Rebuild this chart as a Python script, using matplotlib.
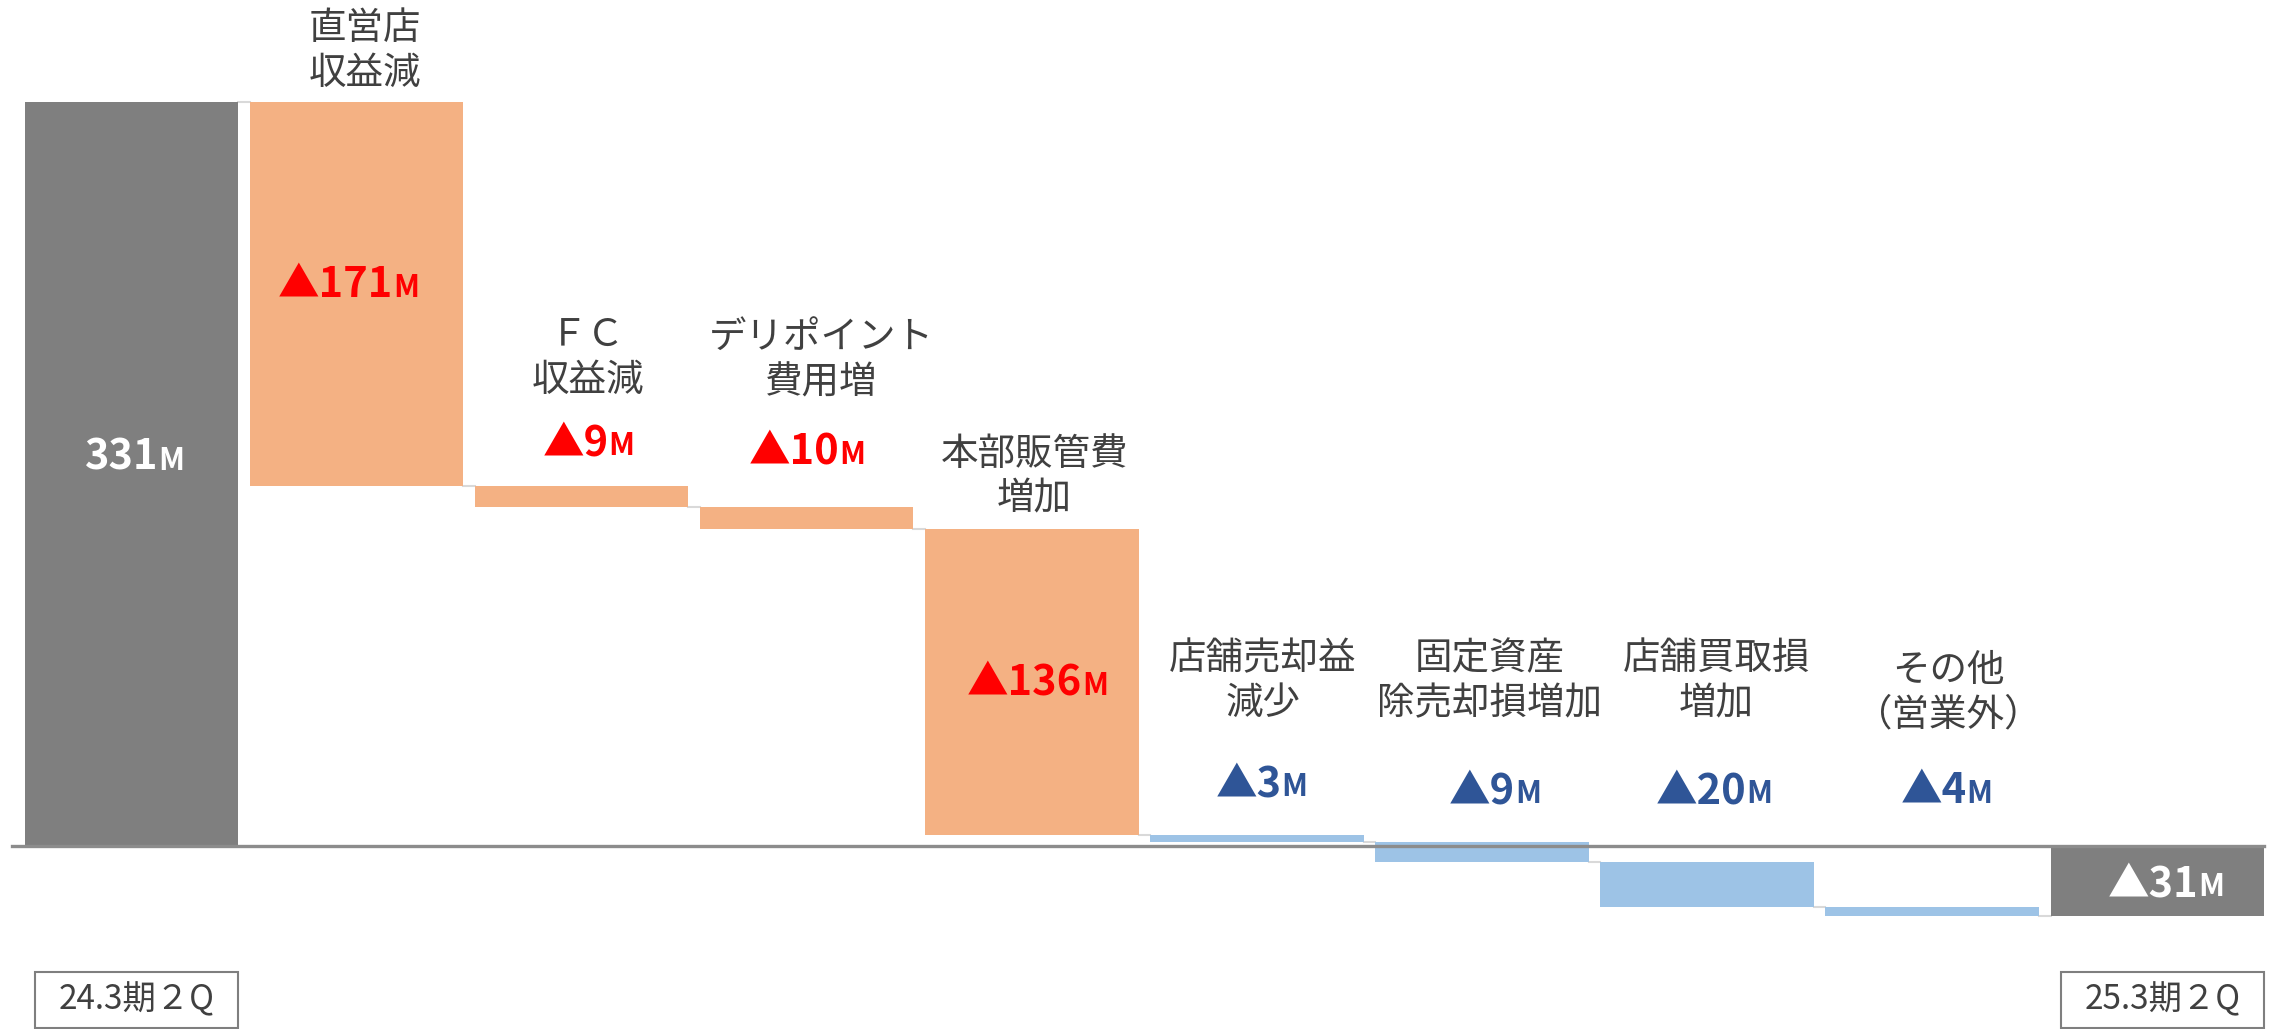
import matplotlib
matplotlib.use("Agg")
import matplotlib.pyplot as plt
import numpy as np
from matplotlib.offsetbox import AnnotationBbox, HPacker, TextArea
from matplotlib.patches import Rectangle

plt.rcParams["font.family"] = ["Noto Sans CJK JP", "DejaVu Sans"]

# data
start_label = "24.3期２Q"
end_label = "25.3期２Q"
start_value = 331
end_value = -31
items = [
    "直営店\n収益減",
    "ＦＣ\n収益減",
    "デリポイント\n費用増",
    "本部販管費\n増加",
    "店舗売却益\n減少",
    "固定資産\n除売却損増加",
    "店舗買取損\n増加",
    "その他\n（営業外）",
]
deltas = [-171, -9, -10, -136, -3, -9, -20, -4]
kinds = ["op", "op", "op", "op", "other", "other", "other", "other"]

# layout (label positions in data units, relative to bar centres in x)
item_label_y = [353.7, 217.0, 216.0, 164.3, 73.3, 73.3, 73.3, 68.2]
item_label_dx = [0.039, 0.026, 0.064, 0.013, 0.026, 0.032, 0.042, 0.074]
value_label_y = [249.3, 179.2, 175.3, 72.7, 27.5, 24.3, 24.3, 24.3]
value_label_dx = [-0.035, 0.03, 0.0, 0.026, 0.02, 0.058, 0.032, 0.064]
start_value_y, start_value_dx = 172.7, 0.013
end_value_y, end_value_dx = -17.0, 0.04

GRAY = "#7f7f7f"
TEXT = "#404040"
bar_color = {"op": "#f4b183", "other": "#9dc3e6"}
num_color = {"op": "#ff0000", "other": "#2f5597"}
W = 0.948

fig = plt.figure(figsize=(22.77, 10.29), dpi=100)
ax = fig.add_axes([0, 0, 1, 1])
ax.set_xlim(-0.584, 9.532)
ax.set_ylim(-81.3, 376.2)
ax.axis("off")

n = len(items)
xs = np.arange(n + 2)
levels = start_value + np.cumsum(deltas)
prev = np.concatenate([[start_value], levels[:-1]])

# start / end totals
ax.bar(xs[0], start_value, width=W, color=GRAY, zorder=2)
ax.bar(xs[-1], end_value, width=W, color=GRAY, zorder=2)

# steps
for i in range(n):
    lo = min(prev[i], levels[i])
    ax.bar(xs[i + 1], abs(deltas[i]), bottom=lo, width=W,
           color=bar_color[kinds[i]], zorder=2)

# connectors
conn = [start_value] + list(levels)
for i in range(n + 1):
    ax.plot([xs[i] + W / 2, xs[i + 1] - W / 2], [conn[i], conn[i]],
            color="#d9d9d9", lw=1.5, zorder=1)

# zero line
ax.plot([-0.532, xs[-1] + W / 2], [0, 0], color="#8c8c8c", lw=2.4, zorder=3)


def value_label(x, y, number, color):
    txt = f"{number}" if number >= 0 else f"▲{abs(number)}"
    a = TextArea(txt, textprops=dict(fontsize=30, fontweight="bold", color=color))
    b = TextArea("M", textprops=dict(fontsize=22, fontweight="bold", color=color))
    box = HPacker(children=[a, b], align="baseline", pad=0, sep=0)
    ab = AnnotationBbox(box, (x, y), xycoords="data", frameon=False,
                        box_alignment=(0.5, 0.5), pad=0, zorder=4)
    ax.add_artist(ab)


value_label(xs[0] + start_value_dx, start_value_y, start_value, "white")
value_label(xs[-1] + end_value_dx, end_value_y, end_value, "white")
for i in range(n):
    ax.text(xs[i + 1] + item_label_dx[i], item_label_y[i], items[i],
            ha="center", va="center", fontsize=27, color=TEXT, linespacing=1.2)
    value_label(xs[i + 1] + value_label_dx[i], value_label_y[i], deltas[i],
                num_color[kinds[i]])

# period boxes
for x, lab in [(xs[0], start_label), (xs[-1], end_label)]:
    left = x - W / 2 + 0.045
    right = x + W / 2
    ax.add_patch(Rectangle((left, -81.0), right - left, 24.9, fill=False,
                           ec=GRAY, lw=1.5, zorder=3))
    ax.text((left + right) / 2, -68.4, lab, ha="center", va="center",
            fontsize=24, color=TEXT)

fig.savefig("out.png", dpi=100)
